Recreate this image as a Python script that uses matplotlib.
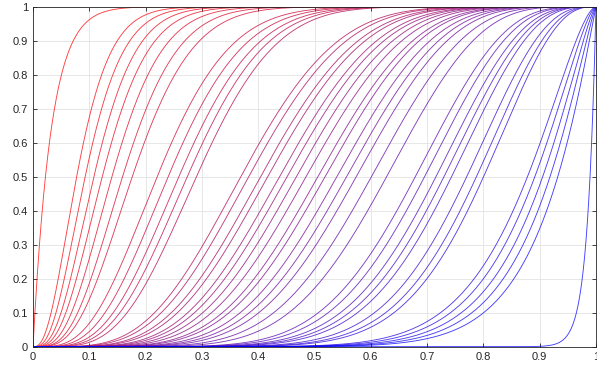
import numpy as np
import matplotlib
matplotlib.use("Agg")
import matplotlib.pyplot as plt

# Shape parameters (a, b) of each S-curve (regularized incomplete beta), red -> blue
shape_a = [1.0, 2.91, 3.23, 3.50, 3.69, 3.88, 4.04, 4.09,
           4.15, 4.49, 4.82, 5.08, 5.36,
           5.25, 5.44, 5.72, 5.89, 6.17, 6.35, 6.57, 6.80, 7.08, 7.25, 7.53, 7.76,
           7.99, 8.35, 8.71, 9.39, 9.61, 9.88, 10.07, 10.25, 10.61, 10.84, 11.01,
           10.30, 10.45, 10.61, 10.76, 10.92, 65.0]
shape_b = [31.0, 31.09, 28.77, 26.50, 24.31, 22.12, 19.96, 17.91,
           13.85, 13.51, 13.18, 12.92, 12.64,
           8.75, 8.56, 8.28, 8.11, 7.83, 7.65, 7.43, 7.20, 6.92, 6.75, 6.47, 6.24,
           6.01, 5.65, 5.29, 4.61, 4.39, 4.12, 3.93, 3.75, 3.39, 3.16, 2.99,
           1.70, 1.55, 1.39, 1.24, 1.08, 1.0]

xticks = [0, 0.1, 0.2, 0.3, 0.4, 0.5, 0.6, 0.7, 0.8, 0.9, 1]
xticklabels = ["0", "0.1", "0.2", "0.3", "0.4", "0.5", "0.6", "0.7", "0.8", "0.9", "1"]
yticks = [0, 0.1, 0.2, 0.3, 0.4, 0.5, 0.6, 0.7, 0.8, 0.9, 1]
yticklabels = ["0", "0.1", "0.2", "0.3", "0.4", "0.5", "0.6", "0.7", "0.8", "0.9", "1"]

plt.rcParams['font.family'] = ['Liberation Sans', 'DejaVu Sans']

fig = plt.figure(figsize=(5.97, 3.70), dpi=100)
ax = fig.add_axes([33 / 597, (370 - 346.7) / 370, (596 - 33) / 597, (346.7 - 6.7) / 370])

x = np.linspace(0, 1, 4001)
xm = 0.5 * (x[1:] + x[:-1])
n = len(shape_a)
for i, (a, b) in enumerate(zip(shape_a, shape_b)):
    logpdf = (a - 1) * np.log(xm) + (b - 1) * np.log1p(-xm)
    pdf = np.exp(logpdf - logpdf.max())
    cdf = np.concatenate([[0.0], np.cumsum(pdf)])
    cdf /= cdf[-1]
    t = i / (n - 1)
    ax.plot(x, cdf, color=(1 - t, 0, t), lw=0.65, alpha=0.75)

ax.set_xlim(0, 1)
ax.set_ylim(0, 1)
ax.set_xticks(xticks)
ax.set_xticklabels(xticklabels)
ax.set_yticks(yticks)
ax.set_yticklabels(yticklabels)
ax.grid(True, color='#e3e3e3', lw=0.6)
ax.set_axisbelow(True)
ax.tick_params(direction='in', length=3, width=0.6, colors='#262626', labelsize=8,
               top=True, right=True, pad=3.5)
for s in ax.spines.values():
    s.set_color('#262626')
    s.set_linewidth(0.6)

fig.savefig("out.png", dpi=100)
